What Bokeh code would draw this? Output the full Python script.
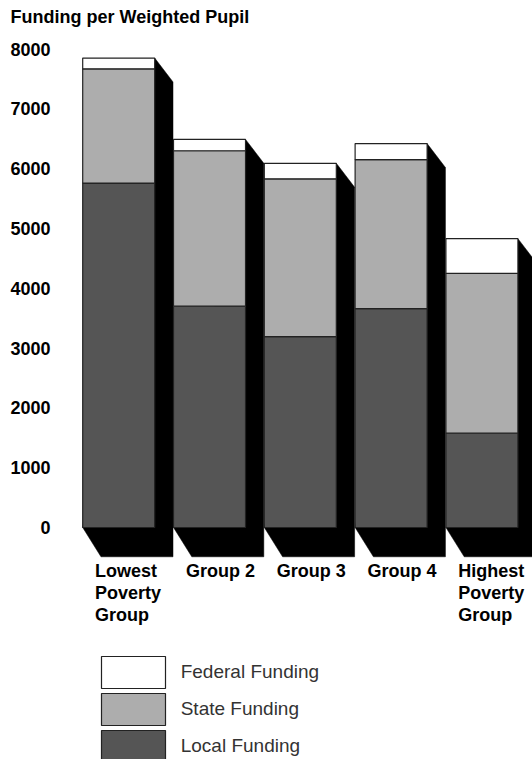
from bokeh.plotting import figure
from bokeh.models import ColumnDataSource, FixedTicker, Legend, LegendItem, Range1d
from bokeh.core.properties import value
from bokeh.embed import file_html
from bokeh.resources import INLINE

# ---- data ----
groups = ["Lowest\nPoverty\nGroup", "Group 2", "Group 3", "Group 4", "Highest\nPoverty\nGroup"]
local_funding = [5760, 3700, 3190, 3660, 1580]
state_funding = [1910, 2600, 2640, 2490, 2670]
federal_funding = [180, 190, 260, 270, 580]
y_ticks = [0, 1000, 2000, 3000, 4000, 5000, 6000, 7000, 8000]
legend_labels = ["Federal Funding", "State Funding", "Local Funding"]

# ---- style constants ----
FONT = "Liberation Sans"
BAR_W = 0.793
DEPTH_X = 0.2015
DEPTH_TOP = 400
DEPTH_BOT = 490

W, H = 532, 759
p = figure(width=W, height=H, output_backend="svg", toolbar_location=None,
           x_range=Range1d(-0.641, 4.557), y_range=Range1d(-3880, 8361),
           min_border_left=60, min_border_right=0, min_border_top=27, min_border_bottom=0,
           x_axis_location=None)
p.title.text = "Funding per Weighted Pupil"
p.title.text_font = FONT
p.title.text_font_size = "18px"
p.title.text_font_style = "bold"
p.title.text_color = "black"
p.title.align = "left"
p.title.offset = -50
p.title.standoff = 2
p.outline_line_color = None
p.grid.visible = False
p.background_fill_color = "white"
p.border_fill_color = "white"

ax = p.yaxis[0]
ax.ticker = FixedTicker(ticks=y_ticks)
ax.axis_line_color = None
ax.major_tick_line_color = None
ax.minor_tick_line_color = None
ax.major_tick_out = 0
ax.major_tick_in = 0
ax.major_label_standoff = 10
ax.major_label_text_font = FONT
ax.major_label_text_font_style = "bold"
ax.major_label_text_font_size = "18px"
ax.major_label_text_color = "black"

xs_idx = list(range(len(groups)))
totals = [l + s + f for l, s, f in zip(local_funding, state_funding, federal_funding)]

# shadows
sh_xs, sh_ys = [], []
for i, t in zip(xs_idx, totals):
    left, right = i - BAR_W / 2, i + BAR_W / 2
    sh_xs.append([right, right + DEPTH_X, right + DEPTH_X, left + DEPTH_X, left])
    sh_ys.append([t, t - DEPTH_TOP, -DEPTH_BOT, -DEPTH_BOT, 0])
p.patches(sh_xs, sh_ys, fill_color="black", line_color="black", line_width=0.5)

src = ColumnDataSource(dict(x=xs_idx, local=local_funding, state=state_funding, federal=federal_funding))
rends = p.vbar_stack(["local", "state", "federal"], x="x", width=BAR_W, source=src,
                     fill_color=["#555555", "#adadad", "#ffffff"], line_color="#222222", line_width=1.2)

p.text(x=[i - 0.26 for i in xs_idx], y=[0] * len(groups), text=groups,
       text_font=value(FONT), text_font_style="bold", text_font_size="18px",
       text_align="left", text_baseline="top", y_offset=34, text_line_height=1.1,
       text_color="black")

# one legend per entry so that the boxes sit close together
legend_rends = [rends[2], rends[1], rends[0]]
legend_offsets = [67.3, 30.3, -7.0]
for lab, r, vy in zip(legend_labels, legend_rends, legend_offsets):
    lg = Legend(items=[LegendItem(label=lab, renderers=[r])],
                location=(32.7, vy), glyph_width=80, glyph_height=40, spacing=0,
                label_standoff=8, padding=0, margin=0, border_line_color=None,
                background_fill_alpha=0, label_text_font=FONT, label_text_font_size="19px",
                label_text_color="#333333")
    p.add_layout(lg)

open("out.html", "w").write(file_html(p, INLINE))
